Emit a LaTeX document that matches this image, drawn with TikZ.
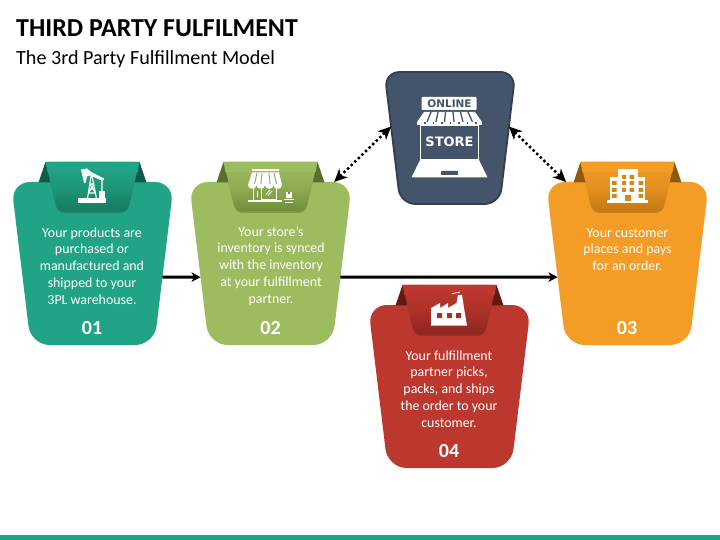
\documentclass[tikz,border=0pt]{standalone}
\usepackage{fontspec}
\setmainfont{Carlito}
\newfontfamily\iconfont{DejaVu Sans}
\usetikzlibrary{shapes.geometric,arrows.meta}
\definecolor{tealcard}{HTML}{21A385}
\definecolor{tealdark}{HTML}{0F5A49}
\definecolor{tealtab}{HTML}{167A62}
\definecolor{greencard}{HTML}{9DBB5F}
\definecolor{greendark}{HTML}{566F2B}
\definecolor{greentab}{HTML}{6E8E38}
\definecolor{orangecard}{HTML}{F39C26}
\definecolor{orangedark}{HTML}{8F5A0E}
\definecolor{orangetab}{HTML}{C4780F}
\definecolor{redcard}{HTML}{BC372E}
\definecolor{reddark}{HTML}{641A14}
\definecolor{redtab}{HTML}{8E2620}
\definecolor{navycard}{HTML}{44546A}
\definecolor{navyline}{HTML}{333F50}
\tikzset{
  card/.style={trapezium, shape border rotate=180, trapezium stretches=true, trapezium angle=78,
    minimum width=163pt, minimum height=163pt, inner sep=0pt, outer sep=0pt, rounded corners=19pt, fill=#1},
  storecard/.style={trapezium, shape border rotate=180, trapezium stretches=true, trapezium angle=78,
    minimum width=131pt, minimum height=132pt, inner sep=0pt, outer sep=0pt, rounded corners=15pt,
    fill=navycard, draw=navyline, line width=1.8pt},
  cardtext/.style={text=white, align=center, inner sep=0pt, font=\fontsize{13.9}{16.8}\selectfont},
  cardnum/.style={text=white, inner sep=0pt, font=\fontsize{20}{20}\selectfont\bfseries},
  link/.style={line width=3.1pt, -{Stealth[length=9pt,width=9.5pt,inset=2.5pt]}},
  dotlink/.style={line width=2.5pt, dash pattern=on 2.4pt off 2.6pt,
    {Stealth[length=13pt,width=12pt,inset=4pt]}-{Stealth[length=13pt,width=12pt,inset=4pt]}},
}
\newcommand{\cardtab}[4]{
  \begin{scope}[shift={(#1.north)}]
    \fill[#3] (-54,0.5) -- (-47,-20) -- (47,-20) -- (54,0.5) -- cycle;
    \fill[black, opacity=0.18, rounded corners=7pt] (-46,-18) -- (46,-18) -- (35,31) -- (-35,31) -- cycle;
    \shade[top color=#2, bottom color=#4, middle color=#2!70!#4, rounded corners=7pt]
      (-47,-20) -- (47,-20) -- (35,29.5) -- (-35,29.5) -- cycle;
    \shade[top color=#2, bottom color=#2] (-47,-20) -- (47,-20) -- (45,-10) -- (-45,-10) -- cycle;
  \end{scope}
}
\begin{document}
\begin{tikzpicture}[x=1pt, y=-1pt]
  \useasboundingbox (0,0) rectangle (720,540);
  \fill[tealcard] (0,535) rectangle (720,540);

  \node[anchor=west, inner sep=0pt, font=\fontsize{25.9}{26}\selectfont\bfseries] (title) at (16,28.5) {THIRD PARTY FULFILMENT};
  \node[anchor=west, inner sep=0pt, font=\fontsize{20.1}{20}\selectfont] (subtitle) at (16,59.5) {The 3rd Party Fulfillment Model};

  \node[card=tealcard] (c1) at (92.5,263.5) {\phantom{M}};
  \node[card=greencard] (c2) at (270.5,263.5) {\phantom{M}};
  \node[card=orangecard] (c3) at (627.5,263.5) {\phantom{M}};
  \node[card=redcard] (c4) at (449.5,386.5) {\phantom{M}};
  \node[storecard] (s) at (450,138) {\phantom{M}};

  \cardtab{c1}{tealcard}{tealdark}{tealtab}
  \cardtab{c2}{greencard}{greendark}{greentab}
  \cardtab{c3}{orangecard}{orangedark}{orangetab}
  \cardtab{c4}{redcard}{reddark}{redtab}

  \draw[link] (c1.-11) -- (c2.191);
  \draw[link] (c2.-11) -- (c3.191);
  \draw[dotlink] (c2.52) -- (s.169);
  \draw[dotlink] (s.11) -- (c3.127);

  \node[cardtext] (t1) at (92,266) {Your products are\\purchased or\\manufactured and\\shipped to your\\3PL warehouse.};
  \node[cardtext] (t2) at (271,266) {Your store’s\\inventory is synced\\with the inventory\\at your fulfillment\\partner.};
  \node[cardtext] (t3) at (627.5,249.5) {Your customer\\places and pays\\for an order.};
  \node[cardtext] (t4) at (449,389) {Your fulfillment\\partner picks,\\packs, and ships\\the order to your\\customer.};
  \node[cardnum] (n1) at (92,328) {01};
  \node[cardnum] (n2) at (270.5,328) {02};
  \node[cardnum] (n3) at (627,328) {03};
  \node[cardnum] (n4) at (449,451) {04};

  % pump jack
  \fill[white] (78,198.5) rectangle (106,203);
  \fill[white] (81,169.5) -- (87,168.5) -- (91,172) -- (104,178.5) -- (103,181) -- (90,175.5) -- (87,176.5) -- (85.5,183) -- (84,183) -- cycle;
  \draw[white, line width=1.1pt] (91,176) -- (87.5,198.5) (92,176) -- (96.5,198.5) (89,189) -- (95,189) (88.5,193) -- (95.5,193) (90,184) -- (94,184) (90,184) -- (95.5,193) (94,184) -- (88.5,193) (102,180) -- (102,191);
  \fill[white] (98.5,191) rectangle (104.5,198.5);

  % shop
  \fill[white] (252,169.5) rectangle (279,171.5);
  \fill[white] (252,172.5) -- (279,172.5) -- (282,185) -- (248,185) -- cycle;
  \fill[white] (248,185) .. controls (248,190) and (256.5,190) .. (256.5,185) .. controls (256.5,190) and (265,190) .. (265,185) .. controls (265,190) and (273.5,190) .. (273.5,185) .. controls (273.5,190) and (282,190) .. (282,185) -- cycle;
  \draw[greencard!85!greentab, line width=1pt] (257,173) -- (254.5,184) (262,173) -- (261,184) (269,173) -- (270,184) (274,173) -- (276.5,184);
  \draw[white, line width=1.3pt] (253.5,188) -- (253.5,201) (261.5,188) -- (261.5,201) (276.5,188) -- (276.5,201) (261.5,199.5) -- (276.5,199.5);
  \draw[white, line width=0.9pt] (257.5,191) -- (257.5,197) (266,194.5) -- (270,190) (268,195.5) -- (272,191);
  \fill[white] (248,200) rectangle (282,202.5);
  \fill[white] (286,192) rectangle (292,198);
  \fill[greentab] (288,192) rectangle (290,194.5);
  \draw[white, line width=0.7pt] (284,199) -- (293.5,199) (285,202) -- (293,202);

  % building
  \fill[white] (610,177) rectangle (645,201);
  \fill[white] (618,169) rectangle (638,177);
  \fill[white] (607,200.5) rectangle (648,203);
  \fill[orangetab!60!orangecard] (622,175) rectangle (626,179) (629.5,175) rectangle (634,179)
    (622,181) rectangle (626,185) (629.5,181) rectangle (634,185)
    (622,188) rectangle (626,192) (629.5,188) rectangle (634,192)
    (612,181) rectangle (616.5,185) (638.5,181) rectangle (643,185)
    (612,188) rectangle (616.5,192) (638.5,188) rectangle (643,192)
    (612,194) rectangle (616.5,198) (638.5,194) rectangle (643,198)
    (625,195) rectangle (631,201);

  % factory
  \fill[white] (431,325.7) -- (431,308) -- (440,303) -- (440,308) -- (448,303) -- (448,308) -- (456.5,303) -- (458,295) -- (462,295) -- (464,308) -- (467,325.7) -- cycle;
  \fill[redtab!50!redcard] (437,313) rectangle (442,318) (447,313) rectangle (452,318) (456,313) rectangle (461,318);
  \draw[white, line width=0.8pt] (452,294) .. controls (454,291.5) and (456,294) .. (460,292);

  % online store
  \fill[white, rounded corners=1pt] (421.7,97) rectangle (476.7,110);
  \node[inner sep=0pt, text=navycard, font=\iconfont\fontsize{10.5}{10}\selectfont\bfseries] (online) at (449.5,103.7) {ONLINE};
  \fill[white] (424,112) -- (475,112) -- (482,122) -- (417,122) -- cycle;
  \draw[navycard, line width=1.3pt] (431,112) -- (427,122) (438,112) -- (436,122) (445.5,112) -- (444.5,122) (453,112) -- (454,122) (460.5,112) -- (463,122) (468,112) -- (472.5,122);
  \draw[white, line width=3pt, dash pattern=on 7pt off 1.5pt] (417,123.5) -- (482,123.5);
  \draw[white, line width=1.5pt] (420.5,125) rectangle (478.5,160);
  \node[inner sep=0pt, text=white, font=\iconfont\fontsize{13}{13}\selectfont\bfseries] (store) at (449.5,141.7) {STORE};
  \fill[white] (420,160) -- (479,160) -- (487.5,177.5) -- (411.5,177.5) -- cycle;
  \fill[navycard, rounded corners=0.6pt] (441,171) rectangle (458,175);
\end{tikzpicture}
\end{document}
